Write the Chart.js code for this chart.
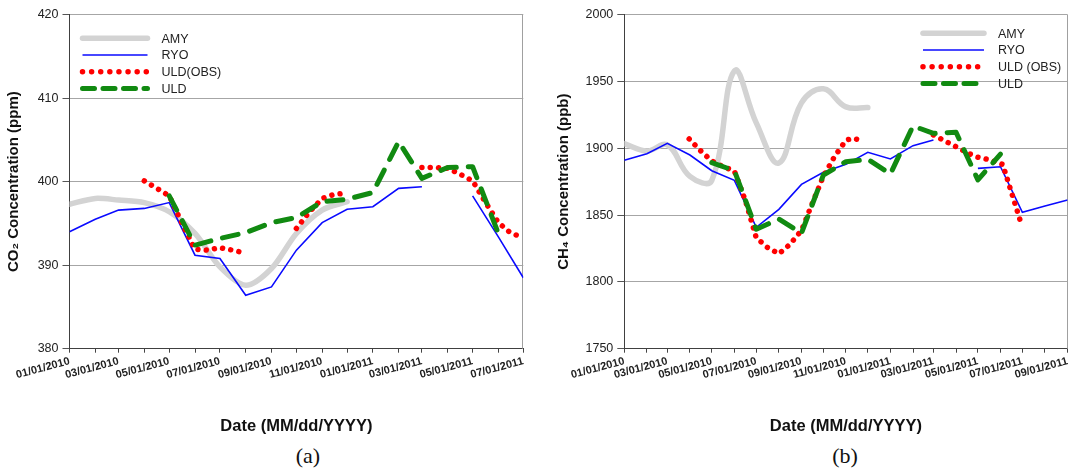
<!DOCTYPE html>
<html>
<head>
<meta charset="utf-8">
<title>CO2 / CH4</title>
<script src="https://cdn.jsdelivr.net/npm/chart.js@4.4.1/dist/chart.umd.min.js"></script>
<style>
    body { margin: 0; background: #fff; width: 1073px; height: 472px; position: relative; overflow: hidden; }
    #graphique_co2 { position: absolute; left: 0; top: 0; }
    #graphique_ch4 { position: absolute; left: 550px; top: 0; }
    .legende_fig { position: absolute; top: 444px; width: 100px; text-align: center; font-family: "Liberation Serif", "Times New Roman", serif; font-size: 22px; line-height: 24px; color: #111; }
</style>
</head>
<body>
<canvas id="graphique_co2" width="540" height="440"></canvas>
<canvas id="graphique_ch4" width="523" height="440"></canvas>
<div class="legende_fig" style="left:258px">(a)</div>
<div class="legende_fig" style="left:795px">(b)</div>
<script>
// valeurs (premier jour du mois)
const mois_co2 = ['2010-01-01', '2010-02-01', '2010-03-01', '2010-04-01', '2010-05-01', '2010-06-01',
    '2010-07-01', '2010-08-01', '2010-09-01', '2010-10-01', '2010-11-01', '2010-12-01',
    '2011-01-01', '2011-02-01', '2011-03-01', '2011-04-01', '2011-05-01', '2011-06-01', '2011-07-01'];
const etiquettes_co2 = ['01/01/2010', '03/01/2010', '05/01/2010', '07/01/2010', '09/01/2010',
    '11/01/2010', '01/01/2011', '03/01/2011', '05/01/2011', '07/01/2011'];

const amy_co2 = [397.3, 398.0, 397.8, 397.5, 396.4, 393.8, 389.8, 387.6, 389.6, 393.8, 396.6, 397.6];
const ryo_co2 = [394.0, 395.5, 396.6, 396.8, 397.5, 391.2, 390.8, 386.4, 387.4, 391.8, 395.1, 396.7,
    397.0, 399.2, 399.4, null, 398.3, 393.4, 388.5];
const uld_co2 = [null, null, null, null, 398.3, 392.4, 393.2, 393.9, 395.1, 395.7, 397.6, 397.9,
    398.7, 404.8, 400.4, 401.7, 401.8, 393.8, null];

const dates_obs_co2 = ['2010-04-01', '2010-04-16', '2010-05-01', '2010-05-16', '2010-06-01', '2010-06-16',
    '2010-07-01', '2010-07-16', '2010-07-29', '2010-09-15', '2010-10-01', '2010-10-16', '2010-11-01',
    '2010-11-16', '2010-12-01', '2011-01-15', '2011-03-01', '2011-03-16', '2011-04-01', '2011-04-16',
    '2011-05-01', '2011-05-16', '2011-06-01', '2011-06-14', '2011-06-25'];
const obs_co2 = [400.1, 399.2, 398.3, 395.1, 391.9, 391.8, 392.1, 391.8, 391.5, null, 394.4, 396.3, 398.0,
    398.5, 398.6, null, 401.7, 401.7, 401.6, 400.9, 400.1, 397.6, 395.1, 394.0, 393.5];

const mois_ch4 = ['2010-01-01', '2010-02-01', '2010-03-01', '2010-04-01', '2010-05-01', '2010-06-01',
    '2010-07-01', '2010-08-01', '2010-09-01', '2010-10-01', '2010-11-01', '2010-12-01',
    '2011-01-01', '2011-02-01', '2011-03-01', '2011-04-01', '2011-05-01', '2011-06-01', '2011-07-01',
    '2011-08-01', '2011-09-01'];
const etiquettes_ch4 = ['01/01/2010', '03/01/2010', '05/01/2010', '07/01/2010', '09/01/2010',
    '11/01/2010', '01/01/2011', '03/01/2011', '05/01/2011', '07/01/2011', '09/01/2011'];

const amy_ch4 = [1903.5, 1898, 1902.5, 1879, 1876, 1958, 1919, 1889, 1934, 1944.5, 1931, 1930.5];
const ryo_ch4 = [1891.0, 1896.0, 1903.7, 1895.0, 1883.2, 1876.0, 1840.9, 1854.3, 1873.0, 1882.0, 1888.0,
    1897.0, 1892.0, 1902.0, 1906.2, null, 1885.0, 1886.2, 1852.1, 1856.8, 1861.3];
const uld_ch4 = [null, null, null, null, 1889.3, 1883.2, 1839.4, 1847.1, 1836.4, 1880.0, 1890.0, 1891.8,
    1880.8, 1916.7, 1911.2, 1912.0, 1876.3, 1895.7, null, null, null];

const dates_obs_ch4 = ['2010-03-31', '2010-04-15', '2010-05-01', '2010-05-16', '2010-06-01', '2010-06-16',
    '2010-07-01', '2010-07-16', '2010-08-01', '2010-08-16', '2010-09-01', '2010-09-16', '2010-10-01',
    '2010-10-16', '2010-11-01', '2010-11-10', '2010-11-26', '2011-01-15', '2011-03-01', '2011-03-16',
    '2011-04-01', '2011-04-16', '2011-05-01', '2011-05-16', '2011-06-04', '2011-06-28'];
const obs_ch4 = [1907.0, 1898.5, 1890.5, 1886.5, 1883.0, 1861.0, 1833.0, 1826.0, 1821.0, 1828.0, 1838.5,
    1859.0, 1879.0, 1893.5, 1906.0, 1907.5, 1905.5, null, 1910.0, 1905.7, 1901.2, 1896.7, 1893.3, 1891.5,
    1888.0, 1846.0];


Chart.defaults.font.family = '"Liberation Sans", Arial, sans-serif';
Chart.defaults.color = '#222';

function jour(d) {
    const p = d.split('-');
    return (Date.UTC(+p[0], +p[1] - 1, +p[2]) - Date.UTC(2010, 0, 1)) / 86400000;
}

function points(dates, valeurs) {
    return valeurs.map(function (v, i) { return { x: jour(dates[i]), y: v }; });
}

function etiquette(d) {
    const p = d.split('-');
    return p[1] + '/' + p[2] + '/' + p[0];
}

// legende dessinee dans la zone du graphique, comme sur la figure
const legende_interne = {
    id: 'legende_interne',
    afterDraw: function (chart, args, opts) {
        const ctx = chart.ctx;
        const zone = chart.chartArea;
        const x0 = opts.droite ? zone.right + opts.x : zone.left + opts.x;
        chart.data.datasets.forEach(function (ds, i) {
            const y = zone.top + opts.y + i * opts.pas;
            ctx.save();
            ctx.strokeStyle = ds.borderColor;
            ctx.lineWidth = ds.borderWidth;
            ctx.lineCap = ds.borderCapStyle || 'butt';
            ctx.setLineDash(ds.tiretsLegende || []);
            ctx.beginPath();
            ctx.moveTo(x0, y);
            ctx.lineTo(x0 + opts.longueur, y);
            ctx.stroke();
            ctx.setLineDash([]);
            ctx.fillStyle = '#222';
            ctx.font = '12.5px "Liberation Sans", Arial, sans-serif';
            ctx.textBaseline = 'middle';
            ctx.fillText(ds.label, x0 + opts.texte, y + 1);
            ctx.restore();
        });
    }
};

// bord droit gris du cadre
const cadre = {
    id: 'cadre',
    beforeDatasetsDraw: function (chart) {
        const ctx = chart.ctx;
        const zone = chart.chartArea;
        ctx.save();
        ctx.strokeStyle = '#a0a0a0';
        ctx.lineWidth = 1;
        ctx.beginPath();
        ctx.moveTo(Math.round(zone.right) - 0.5, zone.top);
        ctx.lineTo(Math.round(zone.right) - 0.5, zone.bottom);
        ctx.stroke();
        ctx.restore();
    }
};

function series(dates, amy, ryo, dates_obs, obs, uld, nom_obs, tension_amy) {
    return [{
        label: 'AMY',
        data: points(dates, amy),
        borderColor: '#d3d3d3',
        borderWidth: 5.5,
        borderCapStyle: 'round',
        borderJoinStyle: 'round',
        tension: tension_amy,
        order: 4
    }, {
        label: 'RYO',
        data: points(dates, ryo),
        borderColor: '#0a0aff',
        borderWidth: 1.6,
        tension: 0,
        order: 3
    }, {
        label: nom_obs,
        data: points(dates_obs, obs),
        borderColor: '#ff0000',
        borderWidth: 5.5,
        borderCapStyle: 'round',
        borderDash: [0.01, 8.3],
        tiretsLegende: [0.01, 9.1],
        tension: 0,
        order: 2
    }, {
        label: 'ULD',
        data: points(dates, uld),
        borderColor: '#118a11',
        borderWidth: 5,
        borderCapStyle: 'round',
        borderJoinStyle: 'round',
        borderDash: [16, 12],
        tiretsLegende: [12, 8.5],
        tension: 0,
        order: 1
    }];
}

function options(mois, etiquettes, ymin, ymax, pas, titre_y, largeur_y, legende) {
    return {
        responsive: false,
        animation: false,
        layout: { padding: { top: 14.7, right: legende.marge, bottom: 0, left: 0 } },
        elements: { point: { radius: 0 } },
        plugins: {
            legend: { display: false },
            tooltip: { enabled: false },
            legende_interne: legende
        },
        scales: {
            x: {
                type: 'linear',
                min: jour(mois[0]),
                max: jour(mois[mois.length - 1]),
                afterBuildTicks: function (scale) {
                    scale.ticks = mois.map(function (d) { return { value: jour(d) }; });
                },
                afterFit: function (scale) { scale.height = 91.3; },
                ticks: {
                    autoSkip: false,
                    minRotation: 15,
                    maxRotation: 15,
                    padding: 2,
                    font: { size: 11, weight: 'bold' },
                    color: '#222',
                    callback: function (v, i) {
                        const e = etiquette(mois[i]);
                        return etiquettes.includes(e) ? e : '';
                    }
                },
                grid: { drawOnChartArea: false, tickLength: 4, tickColor: '#444' },
                border: { color: '#404040', width: 1 },
                title: {
                    display: true,
                    text: 'Date (MM/dd/YYYY)',
                    font: { size: 16.5, weight: 'bold' },
                    color: '#111',
                    padding: { top: 4, bottom: 4 }
                }
            },
            y: {
                min: ymin,
                max: ymax,
                afterFit: function (scale) { scale.width = largeur_y; },
                ticks: {
                    stepSize: pas,
                    padding: 4,
                    font: { size: 12.5 },
                    color: '#222',
                    callback: function (v) { return String(v); }
                },
                grid: { color: '#a6a6a6', tickLength: 7, tickColor: '#555' },
                border: { color: '#404040', width: 1 },
                title: {
                    display: true,
                    text: titre_y,
                    font: { size: 15, weight: 'bold' },
                    color: '#111',
                    padding: { top: 5, bottom: 4 }
                }
            }
        }
    };
}

let graphique_co2 = new Chart(document.getElementById('graphique_co2').getContext('2d'), {
    type: 'line',
    data: { datasets: series(mois_co2, amy_co2, ryo_co2, dates_obs_co2, obs_co2, uld_co2, 'ULD(OBS)', 0.3) },
    options: options(mois_co2, etiquettes_co2, 380, 420, 10, 'CO\u2082 Concentration (ppm)', 69.5,
        { droite: false, x: 13, y: 23.6, pas: 16.7, longueur: 65, texte: 79, marge: 16.7 }),
    plugins: [legende_interne, cadre]
});

let graphique_ch4 = new Chart(document.getElementById('graphique_ch4').getContext('2d'), {
    type: 'line',
    data: { datasets: series(mois_ch4, amy_ch4, ryo_ch4, dates_obs_ch4, obs_ch4, uld_ch4, 'ULD (OBS)', 0.4) },
    options: options(mois_ch4, etiquettes_ch4, 1750, 2000, 50, 'CH\u2084 Concentration (ppb)', 74.3,
        { droite: true, x: -144.6, y: 18.6, pas: 16.7, longueur: 61, texte: 75, marge: 0.7 }),
    plugins: [legende_interne, cadre]
});
</script>
</body>
</html>
